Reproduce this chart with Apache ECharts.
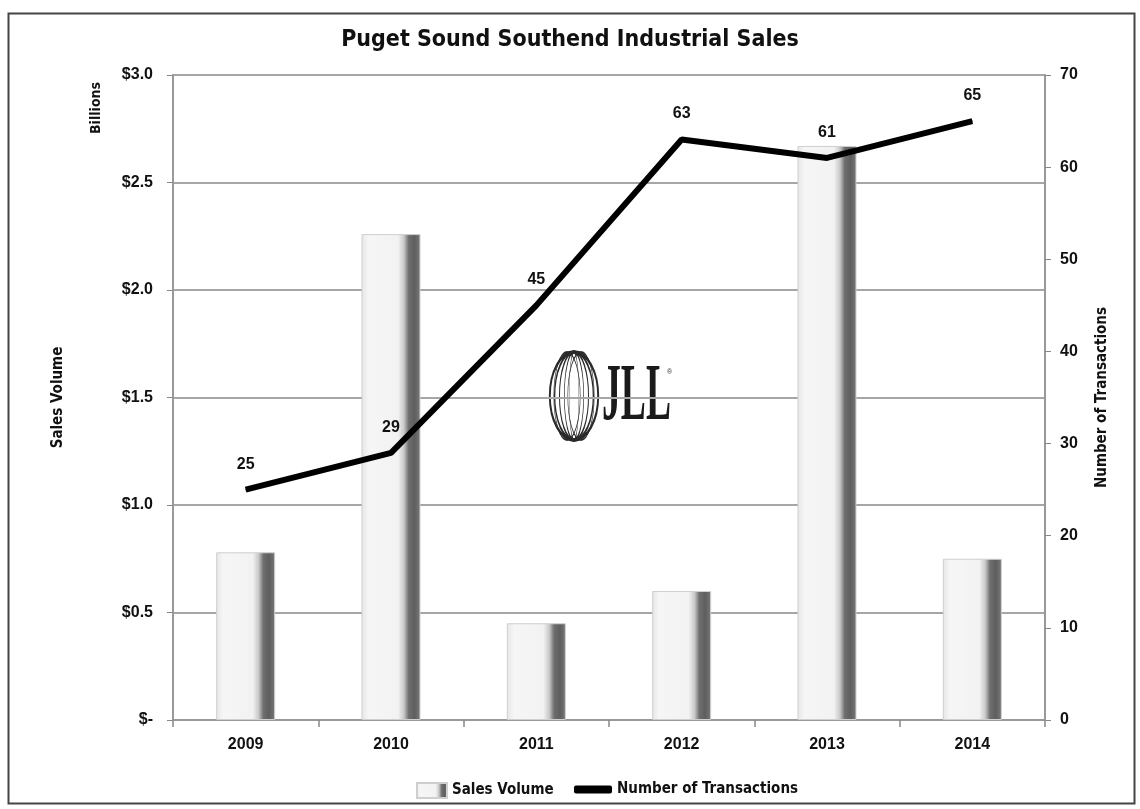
<!DOCTYPE html>
<html>
<head>
<meta charset="utf-8">
<script src="https://cdn.jsdelivr.net/npm/echarts@6/dist/echarts.min.js"></script>
<style>
html,body{margin:0;padding:0;background:#fff;}
#chart{width:1140px;height:809px;}
</style>
</head>
<body>
<div id="chart"></div>
<script>
const years = ['2009', '2010', '2011', '2012', '2013', '2014'];
const salesVolume = [0.78, 2.26, 0.45, 0.60, 2.67, 0.75];
const transactions = [25, 29, 45, 63, 61, 65];
const leftTicks = { min: 0, max: 3, interval: 0.5 };
const rightTicks = { min: 0, max: 70, interval: 10 };

const chart = echarts.init(document.getElementById('chart'));
const lblFont = '"Liberation Sans", sans-serif';
const condFont = '"DejaVu Sans Condensed", "Liberation Sans", sans-serif';
const barGrad = new echarts.graphic.LinearGradient(0, 0, 1, 0, [
  { offset: 0, color: '#e6e6e6' },
  { offset: 0.12, color: '#f6f6f6' },
  { offset: 0.62, color: '#f2f2f2' },
  { offset: 0.72, color: '#c8c8c8' },
  { offset: 0.8, color: '#6e6e6e' },
  { offset: 0.9, color: '#5e5e5e' },
  { offset: 1, color: '#7a7a7a' }
]);

function ell(x, sx, lw) {
  return { type: 'circle', x: x, y: 396, scaleX: sx, z: -1,
    shape: { cx: 0, cy: 0, r: 44 },
    style: { fill: 'none', stroke: '#2a2a2a', lineWidth: lw, strokeNoScale: true } };
}

const option = {
  animation: false,
  backgroundColor: '#fff',
  title: {
    text: 'Puget Sound Southend Industrial Sales',
    left: 'center', top: 24,
    textStyle: { fontFamily: condFont, fontWeight: 'bold', fontSize: 23, color: '#111' }
  },
  grid: { left: 173, right: 95, top: 75, bottom: 89 },
  legend: [
    {
      data: [{ name: 'Sales Volume', icon: 'rect' }],
      left: 411, top: 777, itemWidth: 30, itemHeight: 15,
      textStyle: { fontFamily: condFont, fontWeight: 'bold', fontSize: 15, color: '#111' }
    },
    {
      data: [{ name: 'Number of Transactions', icon: 'roundRect' }],
      left: 569, top: 777, itemWidth: 38, itemHeight: 8,
      textStyle: { fontFamily: condFont, fontWeight: 'bold', fontSize: 15, color: '#111' }
    }
  ],
  xAxis: {
    type: 'category', data: years,
    axisLine: { lineStyle: { color: '#999', width: 2 } },
    axisTick: { show: true, length: 7, lineStyle: { color: '#888', width: 1.5 } },
    axisLabel: { margin: 17, fontFamily: lblFont, fontWeight: 'bold', fontSize: 16, color: '#111' }
  },
  yAxis: [
    {
      type: 'value', min: leftTicks.min, max: leftTicks.max, interval: leftTicks.interval,
      name: 'Sales Volume', nameLocation: 'middle', nameGap: 107, nameRotate: 90,
      nameTextStyle: { fontFamily: condFont, fontWeight: 'bold', fontSize: 15, color: '#111' },
      axisLine: { show: true, lineStyle: { color: '#999', width: 2 } },
      axisTick: { show: true, length: 6, lineStyle: { color: '#888' } },
      splitLine: { lineStyle: { color: '#a6a6a6', width: 2 } },
      axisLabel: {
        margin: 20, fontFamily: lblFont, fontWeight: 'bold', fontSize: 16, color: '#111',
        formatter: v => v === 0 ? '$-' : '$' + v.toFixed(1)
      }
    },
    {
      type: 'value', min: rightTicks.min, max: rightTicks.max, interval: rightTicks.interval,
      name: 'Number of Transactions', nameLocation: 'middle', nameGap: 50, nameRotate: 90,
      nameTextStyle: { fontFamily: condFont, fontWeight: 'bold', fontSize: 15, color: '#111' },
      axisLine: { show: true, lineStyle: { color: '#999', width: 2 } },
      axisTick: { show: true, length: 6, lineStyle: { color: '#888' } },
      splitLine: { show: false },
      axisLabel: { margin: 15, fontFamily: lblFont, fontWeight: 'bold', fontSize: 16, color: '#111' }
    }
  ],
  series: [
    {
      name: 'Sales Volume', type: 'bar', yAxisIndex: 0, data: salesVolume,
      barWidth: 59,
      itemStyle: { color: barGrad, borderColor: '#cfcfcf', borderWidth: 1 }
    },
    {
      name: 'Number of Transactions', type: 'line', yAxisIndex: 1, data: transactions,
      symbol: 'circle', symbolSize: 1, showSymbol: true, z: 5,
      lineStyle: { color: '#000', width: 6 },
      itemStyle: { color: '#000' },
      label: {
        show: true, position: 'top', distance: 17,
        fontFamily: lblFont, fontWeight: 'bold', fontSize: 16, color: '#111'
      }
    }
  ],
  graphic: [
    {
      type: 'rect', left: 6, top: 11, z: 100, silent: true,
      shape: { width: 1126, height: 790 },
      style: { fill: 'none', stroke: '#444', lineWidth: 2 }
    },
    {
      type: 'group', z: -1, silent: true,
      children: [
        ell(574, 0.55, 3.5),
        ell(574, 0.44, 3),
        ell(574, 0.33, 3),
        ell(574, 0.22, 3),
        ell(574, 0.11, 3),
        ell(567, 0.3, 2),
        ell(581, 0.3, 2),
        { type: 'text', x: 602, y: 398, scaleX: 0.47, z: -1,
          style: { text: 'JLL', font: 'bold 80px "Liberation Serif", serif', fill: '#1a1a1a', textAlign: 'left', textVerticalAlign: 'middle' } },
        { type: 'text', x: 667, y: 372, z: -1,
          style: { text: '®', font: '7px "Liberation Sans", sans-serif', fill: '#333', textAlign: 'left', textVerticalAlign: 'middle' } }
      ]
    },
    {
      type: 'text', left: 89, top: 82, rotation: Math.PI / 2, silent: true,
      style: { text: 'Billions', font: 'bold 14px "DejaVu Sans Condensed", "Liberation Sans", sans-serif', fill: '#111' }
    }
  ]
};
chart.setOption(option);
</script>
</body>
</html>
